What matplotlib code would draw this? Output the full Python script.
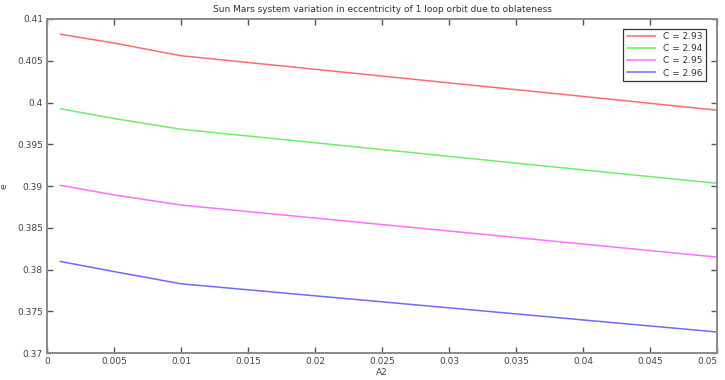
import matplotlib.pyplot as plt
import numpy as np

# eccentricity vs oblateness coefficient A2
a2 = [0.001, 0.005, 0.01, 0.02, 0.03, 0.04, 0.05]
e_293 = [0.40817, 0.40712, 0.40560, 0.40398, 0.40235, 0.40073, 0.39908]
e_294 = [0.39925, 0.39808, 0.39680, 0.39518, 0.39355, 0.39193, 0.39032]
e_295 = [0.39008, 0.38893, 0.38772, 0.38616, 0.38461, 0.38305, 0.38149]
e_296 = [0.38096, 0.37975, 0.37829, 0.37685, 0.37541, 0.37396, 0.37252]
labels = ['C = 2.93', 'C = 2.94', 'C = 2.95', 'C = 2.96']
colors = ['#ff6b6b', '#6bee6b', '#ff70ff', '#6b6bff']

fig = plt.figure(figsize=(7.25, 3.8), dpi=100)
ax = fig.add_axes([0.065, 0.071, 0.924, 0.879])

for vals, lab, c in zip([e_293, e_294, e_295, e_296], labels, colors):
    ax.plot(a2, vals, color=c, lw=1.1, label=lab)

ax.set_xlim(0, 0.05)
ax.set_ylim(0.37, 0.41)
ax.set_xticks(np.arange(0, 0.0501, 0.005))
ax.set_yticks(np.arange(0.37, 0.4101, 0.005))
ax.set_xticklabels(['0', '0.005', '0.01', '0.015', '0.02', '0.025', '0.03',
                    '0.035', '0.04', '0.045', '0.05'])
ax.set_yticklabels(['0.37', '0.375', '0.38', '0.385', '0.39', '0.395', '0.4',
                    '0.405', '0.41'])
# last label would run off the figure edge
ax.get_xticklabels()[-1].set_horizontalalignment('right')

for s in ax.spines.values():
    s.set_color('#8a8a8a')
    s.set_linewidth(1.4)
ax.tick_params(direction='in', top=True, right=True, length=4, width=1,
               color='#555555', labelsize=6.5, labelcolor='#444444', pad=3)

ax.set_title('Sun Mars system variation in eccentricity of 1 loop orbit due to oblateness',
             fontsize=6.5, color='#333333', pad=5)
ax.set_xlabel('A2', fontsize=6.5, color='#444444', labelpad=1)
ax.set_ylabel('e', fontsize=6.5, color='#444444', labelpad=6)

leg = ax.legend(loc='upper right', fontsize=6.5, frameon=True, fancybox=False,
                handlelength=3.2, borderpad=0.4, labelspacing=0.35,
                bbox_to_anchor=(0.99, 0.985))
leg.get_frame().set_edgecolor('black')
leg.get_frame().set_linewidth(0.9)
for t in leg.get_texts():
    t.set_color('#333333')

fig.savefig('out.png', dpi=100)
